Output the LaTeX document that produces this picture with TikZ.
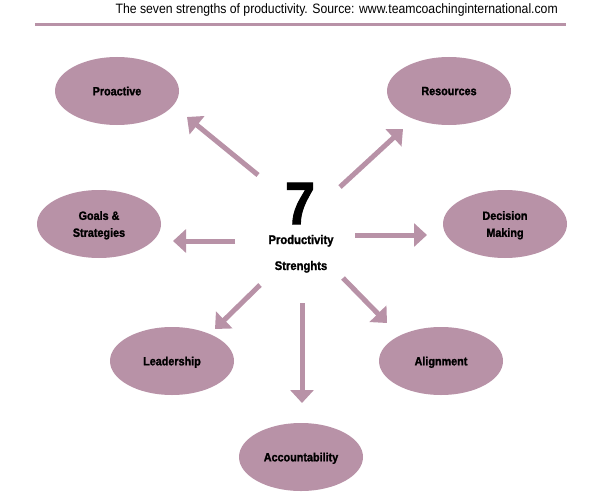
\documentclass[tikz,border=0pt]{standalone}
\usepackage{fontspec}
\setmainfont{Liberation Sans}[FakeStretch=0.9,BoldFeatures={FakeBold=1.5}]
\usetikzlibrary{shapes.geometric,arrows.meta}
\definecolor{mauve}{RGB}{184,146,167}
\begin{document}
\begin{tikzpicture}[x=1pt,y=-1pt,
  bubble/.style={ellipse,fill=mauve,draw=none,minimum width=124pt,minimum height=68pt,inner sep=0pt,
    align=center,text depth=0pt,font={\fontsize{12}{17}\selectfont\bfseries}},
  spoke/.style={draw=mauve,line width=5pt,-{Triangle[width=23pt,length=13pt]}}]
\useasboundingbox (0,0) rectangle (612,500);
% caption and rule
\node[anchor=base east,inner sep=0pt,font={\fontsize{13.6}{16}\selectfont}] (cap) at (558,13.5)
  {The seven strengths of productivity. Source: www.teamcoachinginternational.com};
\coordinate (ruleL) at (35,24.3);
\coordinate (ruleR) at (566,24.3);
\draw[mauve,line width=3.3pt] (ruleL) -- (ruleR);
% centre
\node[inner sep=0pt,font={\fontsize{60}{60}\selectfont\bfseries}] (seven) at (300,203.5) {7};
\node[anchor=base,inner sep=0pt,font={\fontsize{12.5}{15}\selectfont\bfseries}] (prod) at (301,244) {Productivity};
\node[anchor=base,inner sep=0pt,font={\fontsize{12.5}{15}\selectfont\bfseries}] (stren) at (301,270) {Strenghts};
% bubbles
\node[bubble] (proactive) at (117,91) {Proactive};
\node[bubble] (resources) at (449,91) {Resources};
\node[bubble] (goals) at (99,224) {Goals \&\\Strategies};
\node[bubble] (decision) at (505,224) {Decision\\Making};
\node[bubble] (leadership) at (172,361) {Leadership};
\node[bubble] (alignment) at (441,361) {Alignment};
\node[bubble] (account) at (301,457) {Accountability};
% arrow end points
\coordinate (s1) at (258,175); \coordinate (t1) at (187,117);
\coordinate (s2) at (340,187); \coordinate (t2) at (403,129);
\coordinate (s3) at (235,241); \coordinate (t3) at (173,241);
\coordinate (s4) at (355,235); \coordinate (t4) at (427,235);
\coordinate (s5) at (260,285); \coordinate (t5) at (215,329);
\coordinate (s6) at (302,303); \coordinate (t6) at (302,403);
\coordinate (s7) at (343,278); \coordinate (t7) at (387,323);
\foreach \i in {1,...,7} \draw[spoke] (s\i) -- (t\i);
\end{tikzpicture}
\end{document}
